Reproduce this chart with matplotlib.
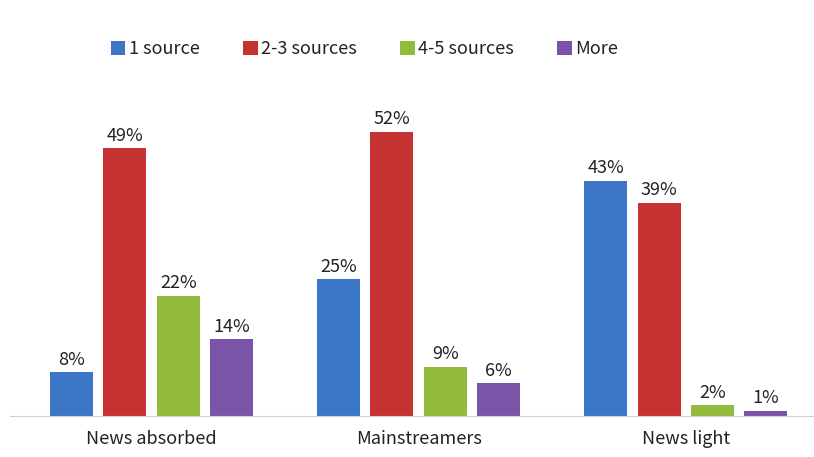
import matplotlib.pyplot as plt
import numpy as np

groups = ["News absorbed", "Mainstreamers", "News light"]
series = ["1 source", "2-3 sources", "4-5 sources", "More"]
values = np.array([
    [8, 25, 43],
    [49, 52, 39],
    [22, 9, 2],
    [14, 6, 1],
])
colors = ["#3b77c6", "#c63131", "#92bb3d", "#7a54a6"]

plt.rcParams['font.family'] = ['Noto Sans CJK SC', 'DejaVu Sans']

fig = plt.figure(figsize=(8.14, 4.57), dpi=100)
ax = fig.add_axes([0.0123, 0.0897, 0.9877, 0.735])

x = np.arange(len(groups))
width = 0.161
step = 0.2
for i, name in enumerate(series):
    pos = x + (i - 1.5) * step
    bars = ax.bar(pos, values[i], width, color=colors[i], label=name)
    for b, v in zip(bars, values[i]):
        ax.text(b.get_x() + b.get_width() / 2, v + 0.6, f"{v}%",
                ha="center", va="bottom", fontsize=13, color="#222222")

ax.set_xlim(-0.53, 2.48)
ax.set_ylim(0, 61.4)
ax.set_xticks(x)
ax.set_xticklabels(groups, fontsize=13, color="#222222")
ax.tick_params(axis="x", length=0, pad=10)
ax.set_yticks([])
for s in ["top", "right", "left"]:
    ax.spines[s].set_visible(False)
ax.spines["bottom"].set_color("#d0d0d0")

fig.legend(loc="center", bbox_to_anchor=(0.448, 0.893), ncol=4, frameon=False,
           fontsize=13, handlelength=0.8, handleheight=0.8, handletextpad=0.2,
           columnspacing=2.4, labelcolor="#222222")

fig.savefig("out.png", dpi=100)
